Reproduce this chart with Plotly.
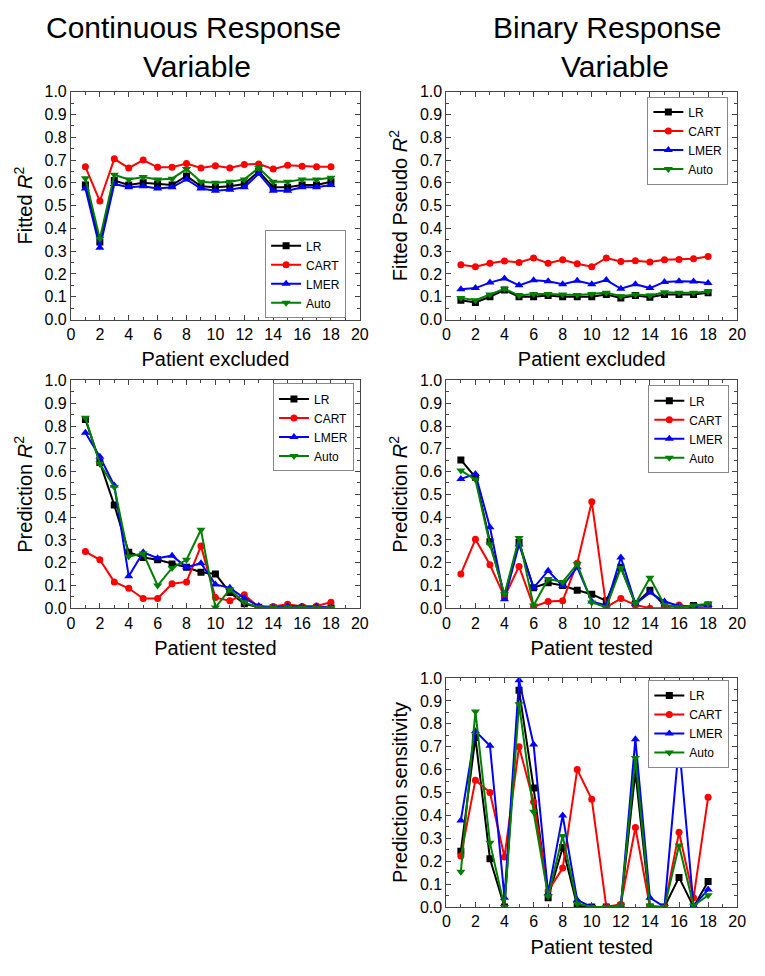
import plotly.graph_objects as go

# patient index, 1..18
patients = list(range(1, 19))

# continuous response, fitted R^2 (patient excluded)
fit_cont_lr = [0.59, 0.34, 0.61, 0.59, 0.60, 0.595, 0.59, 0.63, 0.585, 0.58, 0.585, 0.595, 0.65, 0.58, 0.58, 0.59, 0.59, 0.605]
fit_cont_cart = [0.67, 0.52, 0.705, 0.665, 0.70, 0.668, 0.668, 0.685, 0.665, 0.675, 0.665, 0.68, 0.683, 0.66, 0.677, 0.673, 0.67, 0.67]
fit_cont_lmer = [0.575, 0.315, 0.595, 0.58, 0.585, 0.575, 0.58, 0.615, 0.575, 0.565, 0.57, 0.58, 0.64, 0.565, 0.565, 0.58, 0.58, 0.59]
fit_cont_auto = [0.62, 0.355, 0.635, 0.615, 0.625, 0.615, 0.618, 0.66, 0.605, 0.60, 0.605, 0.615, 0.665, 0.605, 0.605, 0.615, 0.615, 0.622]

# binary response, fitted pseudo R^2 (patient excluded)
fit_bin_lr = [0.085, 0.075, 0.10, 0.13, 0.10, 0.10, 0.105, 0.10, 0.10, 0.10, 0.11, 0.095, 0.105, 0.098, 0.11, 0.11, 0.11, 0.118]
fit_bin_cart = [0.24, 0.232, 0.247, 0.257, 0.25, 0.27, 0.247, 0.262, 0.245, 0.232, 0.27, 0.255, 0.258, 0.252, 0.262, 0.263, 0.267, 0.277]
fit_bin_lmer = [0.133, 0.138, 0.162, 0.18, 0.15, 0.172, 0.168, 0.155, 0.17, 0.155, 0.173, 0.135, 0.155, 0.138, 0.165, 0.168, 0.167, 0.16]
fit_bin_auto = [0.095, 0.085, 0.11, 0.135, 0.105, 0.112, 0.112, 0.11, 0.108, 0.112, 0.118, 0.102, 0.11, 0.105, 0.12, 0.118, 0.118, 0.123]

# continuous response, prediction R^2 (patient tested)
pred_cont_lr = [0.829, 0.64, 0.453, 0.246, 0.223, 0.213, 0.195, 0.18, 0.158, 0.151, 0.069, 0.02, 0.005, 0.003, 0.003, 0.002, 0.002, 0.002]
pred_cont_cart = [0.249, 0.213, 0.116, 0.088, 0.043, 0.043, 0.108, 0.116, 0.273, 0.047, 0.033, 0.06, 0.005, 0.008, 0.018, 0.008, 0.01, 0.027]
pred_cont_lmer = [0.77, 0.665, 0.539, 0.141, 0.246, 0.22, 0.231, 0.18, 0.198, 0.105, 0.09, 0.045, 0.01, 0.005, 0.01, 0.008, 0.008, 0.005]
pred_cont_auto = [0.836, 0.634, 0.532, 0.227, 0.241, 0.10, 0.177, 0.213, 0.345, 0.004, 0.083, 0.025, 0.005, 0.003, 0.005, 0.003, 0.002, 0.002]

# binary response, prediction R^2 (patient tested)
pred_bin_lr = [0.651, 0.575, 0.292, 0.055, 0.29, 0.09, 0.112, 0.10, 0.079, 0.062, 0.033, 0.18, 0.02, 0.079, 0.013, 0.005, 0.012, 0.015]
pred_bin_cart = [0.151, 0.303, 0.191, 0.05, 0.184, 0.007, 0.03, 0.033, 0.198, 0.468, 0.005, 0.043, 0.015, 0.0, 0.0, 0.015, 0.0, 0.005]
pred_bin_lmer = [0.568, 0.589, 0.356, 0.04, 0.28, 0.09, 0.165, 0.098, 0.18, 0.03, 0.013, 0.223, 0.02, 0.069, 0.03, 0.01, 0.01, 0.015]
pred_bin_auto = [0.605, 0.565, 0.28, 0.062, 0.309, 0.012, 0.129, 0.116, 0.194, 0.026, 0.005, 0.177, 0.02, 0.134, 0.015, 0.005, 0.012, 0.02]

# binary response, prediction sensitivity (patient tested)
sens_lr = [0.243, 0.74, 0.21, 0.0, 0.947, 0.52, 0.04, 0.26, 0.005, 0.0, 0.0, 0.005, 0.59, 0.0, 0.0, 0.129, 0.0, 0.111]
sens_cart = [0.223, 0.554, 0.50, 0.218, 0.70, 0.46, 0.07, 0.17, 0.60, 0.47, 0.0, 0.012, 0.347, 0.0, 0.0, 0.326, 0.04, 0.479]
sens_lmer = [0.378, 0.768, 0.704, 0.04, 0.99, 0.71, 0.06, 0.40, 0.03, 0.0, 0.0, 0.005, 0.733, 0.04, 0.0, 0.711, 0.005, 0.076]
sens_auto = [0.154, 0.854, 0.28, 0.0, 0.886, 0.416, 0.047, 0.31, 0.014, 0.0, 0.0, 0.005, 0.651, 0.005, 0.0, 0.268, 0.005, 0.051]

model_names = ["LR", "CART", "LMER", "Auto"]
colors = ["#000000", "#ff0000", "#0000ff", "#008000"]
symbols = ["square", "circle", "triangle-up", "triangle-down"]
msizes = [7, 7, 8, 8]

panels = [
    [fit_cont_lr, fit_cont_cart, fit_cont_lmer, fit_cont_auto],
    [fit_bin_lr, fit_bin_cart, fit_bin_lmer, fit_bin_auto],
    [pred_cont_lr, pred_cont_cart, pred_cont_lmer, pred_cont_auto],
    [pred_bin_lr, pred_bin_cart, pred_bin_lmer, pred_bin_auto],
    [sens_lr, sens_cart, sens_lmer, sens_auto],
]

FONT = "Liberation Sans, Arial, sans-serif"
# page has an 8px body margin, so the figure is made that much smaller
PAD = 8
W, H = 765 - 2 * PAD, 976 - 2 * PAD


def px(x):
    return (x - PAD) / W


def py(y):
    return 1 - (y - PAD) / H


# plot boxes in window pixels: left, right, top, bottom
boxes = [
    (68, 362, 85, 317),
    (450, 746, 85, 317),
    (68, 362, 379, 611),
    (450, 746, 379, 611),
    (450, 746, 682, 915),
]
ytitles = ["Fitted <i>R</i><sup>2</sup>", "Fitted Pseudo <i>R</i><sup>2</sup>",
           "Prediction <i>R</i><sup>2</sup>", "Prediction <i>R</i><sup>2</sup>",
           "Prediction sensitivity"]
xtitles = ["Patient excluded", "Patient excluded", "Patient tested", "Patient tested", "Patient tested"]
# legend anchor (right, y, yanchor) in window pixels
legpos = [(348, 271, "middle"), (737, 90, "top"), (356, 382, "top"), (738, 384, "top"), (738, 684, "top")]

fig = go.Figure()

for p, series in enumerate(panels):
    ax = "" if p == 0 else str(p + 1)
    leg = "legend" if p == 0 else "legend" + str(p + 1)
    for i, vals in enumerate(series):
        fig.add_trace(go.Scatter(
            x=patients, y=vals, name=model_names[i], mode="lines+markers",
            line=dict(color=colors[i], width=2),
            marker=dict(symbol=symbols[i], size=msizes[i], color=colors[i]),
            xaxis="x" + ax, yaxis="y" + ax, legend=leg))

axcommon = dict(showgrid=False, zeroline=False, showline=True, linecolor="#444444", linewidth=1,
                mirror="ticks", ticks="inside", ticklen=5, tickcolor="#444444",
                tickfont=dict(family=FONT, size=16, color="black"))

layout = dict(width=W, height=H, margin=dict(l=0, r=0, t=0, b=0),
              paper_bgcolor="white", plot_bgcolor="white", showlegend=True,
              font=dict(family=FONT, color="black"))

for p, (l, r, t, b) in enumerate(boxes):
    ax = "" if p == 0 else str(p + 1)
    layout["xaxis" + ax] = dict(axcommon, domain=[px(l), px(r)], anchor="y" + ax, range=[0, 20], dtick=2, tick0=0,
                                minor=dict(dtick=1, ticks="inside", ticklen=3, tickcolor="#444444"),
                                title=dict(text=xtitles[p], font=dict(family=FONT, size=20), standoff=10))
    layout["yaxis" + ax] = dict(axcommon, domain=[py(b), py(t)], anchor="x" + ax, range=[0, 1.0], dtick=0.1, tick0=0,
                                tickformat=".1f",
                                minor=dict(dtick=0.05, ticks="inside", ticklen=3, tickcolor="#444444"),
                                title=dict(text=ytitles[p], font=dict(family=FONT, size=20), standoff=6))
    lx, ly, anc = legpos[p]
    leg = "legend" if p == 0 else "legend" + str(p + 1)
    layout[leg] = dict(x=px(lx), y=py(ly), xanchor="right", yanchor=anc, bgcolor="white",
                       bordercolor="#888888", borderwidth=1, tracegroupgap=0,
                       font=dict(family=FONT, size=12, color="black"))

fig.update_layout(**layout)

# column headings
heads = [("Continuous Response", 193, 20), ("Variable", 196, 59),
         ("Binary Response", 614, 20), ("Variable", 622, 59)]
for txt, cx, cy in heads:
    fig.add_annotation(text=txt, x=px(cx), y=py(cy), xref="paper", yref="paper",
                       showarrow=False, xanchor="center", yanchor="middle",
                       font=dict(family=FONT, size=30, color="black"))

fig.write_html("out.html")
